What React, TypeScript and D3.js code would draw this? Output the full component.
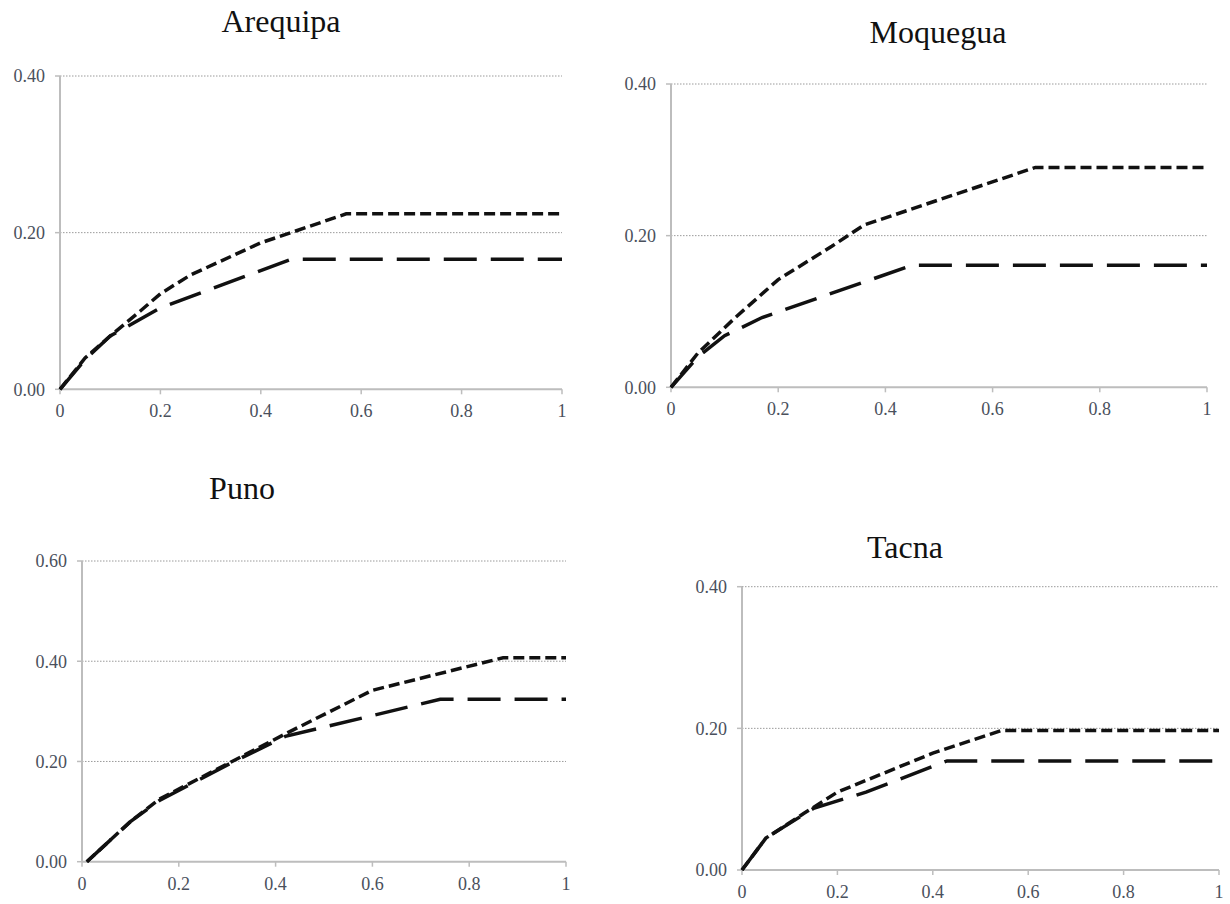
import React from "react";
import * as d3 from "d3";

// ---- Data ----
const regions = ["Arequipa", "Moquegua", "Puno", "Tacna"];
const xTicks = [0, 0.2, 0.4, 0.6, 0.8, 1];
const yTicks04 = [0, 0.2, 0.4];
const yTicks06 = [0, 0.2, 0.4, 0.6];

// short-dash series
const arequipaShort: [number, number][] = [[0, 0], [0.05, 0.04], [0.1, 0.068], [0.16, 0.1], [0.2, 0.122], [0.26, 0.146], [0.4, 0.187], [0.57, 0.224], [1, 0.224]];
const moqueguaShort: [number, number][] = [[0, 0], [0.05, 0.045], [0.12, 0.092], [0.2, 0.142], [0.3, 0.186], [0.36, 0.214], [0.68, 0.29], [1, 0.29]];
const punoShort: [number, number][] = [[0.01, 0], [0.1, 0.08], [0.16, 0.125], [0.31, 0.2], [0.42, 0.255], [0.6, 0.342], [0.87, 0.407], [1, 0.407]];
const tacnaShort: [number, number][] = [[0, 0], [0.05, 0.045], [0.13, 0.08], [0.2, 0.11], [0.4, 0.165], [0.544, 0.197], [1, 0.197]];

// long-dash series
const arequipaLong: [number, number][] = [[0, 0], [0.05, 0.038], [0.1, 0.068], [0.2, 0.104], [0.46, 0.166], [1, 0.166]];
const moqueguaLong: [number, number][] = [[0, 0], [0.05, 0.04], [0.1, 0.068], [0.17, 0.092], [0.45, 0.161], [1, 0.161]];
const punoLong: [number, number][] = [[0.01, 0], [0.1, 0.08], [0.16, 0.122], [0.31, 0.198], [0.42, 0.25], [0.74, 0.324], [1, 0.324]];
const tacnaLong: [number, number][] = [[0, 0], [0.05, 0.045], [0.15, 0.087], [0.26, 0.11], [0.43, 0.154], [1, 0.154]];

const yMaxes = [0.4, 0.4, 0.6, 0.4];

// ---- Layout ----
const panels = [
  { x0: 60, x1: 562, yb: 389.3, yt: 76, tx: 281, ty: 32 },
  { x0: 671, x1: 1207, yb: 387.3, yt: 84, tx: 938, ty: 43 },
  { x0: 82, x1: 566, yb: 861.7, yt: 561, tx: 242, ty: 499 },
  { x0: 742, x1: 1219, yb: 870, yt: 586.7, tx: 905, ty: 558 },
];

const shortSeries = [arequipaShort, moqueguaShort, punoShort, tacnaShort];
const longSeries = [arequipaLong, moqueguaLong, punoLong, tacnaLong];
const yTickSets = [yTicks04, yTicks04, yTicks06, yTicks04];

const serif = "'Liberation Serif', 'DejaVu Serif', serif";
const fmtY = d3.format(".2f");
const fmtX = (v: number) => String(v);

function Panel({ i }: { i: number }) {
  const p = panels[i];
  const x = d3.scaleLinear().domain([0, 1]).range([p.x0, p.x1]);
  const y = d3.scaleLinear().domain([0, yMaxes[i]]).range([p.yb, p.yt]);
  const line = d3
    .line<[number, number]>()
    .x((d) => x(d[0]))
    .y((d) => y(d[1]));
  return (
    <g>
      <text x={p.tx} y={p.ty} textAnchor="middle" fontFamily={serif} fontSize={32} fill="#111">
        {regions[i]}
      </text>
      {yTickSets[i]
        .filter((t) => t > 0)
        .map((t) => (
          <line key={"g" + t} x1={x(0)} x2={x(1)} y1={y(t)} y2={y(t)} stroke="#9a9a9a" strokeWidth={1} strokeDasharray="1.5,1.5" />
        ))}
      {/* axes */}
      <line x1={x(0)} x2={x(0)} y1={y(0)} y2={y(yMaxes[i])} stroke="#bdbdbd" strokeWidth={2} />
      <line x1={x(0)} x2={x(1)} y1={y(0)} y2={y(0)} stroke="#bdbdbd" strokeWidth={2} />
      {yTickSets[i].map((t) => (
        <g key={"y" + t}>
          <line x1={x(0) - 5} x2={x(0)} y1={y(t)} y2={y(t)} stroke="#bdbdbd" strokeWidth={1.5} />
          <text x={x(0) - 15} y={y(t)} dy="0.35em" textAnchor="end" fontFamily={serif} fontSize={18} fill="#4a505c">
            {fmtY(t)}
          </text>
        </g>
      ))}
      {xTicks.map((t) => (
        <g key={"x" + t}>
          <line x1={x(t)} x2={x(t)} y1={y(0)} y2={y(0) + 5} stroke="#bdbdbd" strokeWidth={1.5} />
          <text x={x(t)} y={y(0) + 28} textAnchor="middle" fontFamily={serif} fontSize={18} fill="#4a505c">
            {fmtX(t)}
          </text>
        </g>
      ))}
      <path d={line(longSeries[i]) || ""} fill="none" stroke="#111" strokeWidth={3.5} strokeDasharray="33,14" />
      <path d={line(shortSeries[i]) || ""} fill="none" stroke="#111" strokeWidth={3.5} strokeDasharray="11,5" />
    </g>
  );
}

export default function App() {
  return (
    <svg
      width={1230}
      height={904}
      style={{ position: "absolute", left: 0, top: 0, background: "#fff" }}
      xmlns="http://www.w3.org/2000/svg"
    >
      <rect width={1230} height={904} fill="#fff" />
      {regions.map((_, i) => (
        <Panel key={i} i={i} />
      ))}
    </svg>
  );
}
